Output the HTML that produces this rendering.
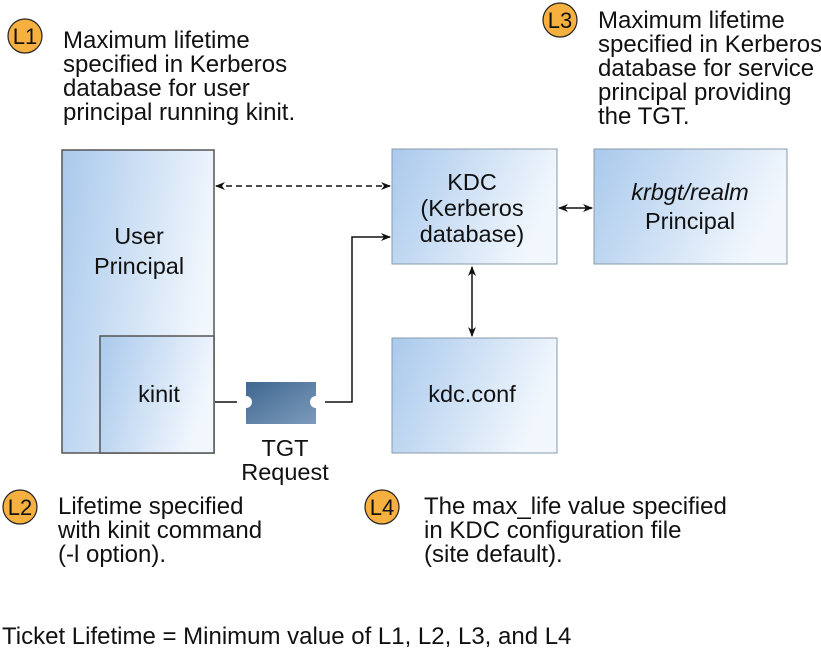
<!DOCTYPE html>
<html><head><meta charset="utf-8"><style>
html,body{margin:0;padding:0;background:#fff;}
svg{display:block;}
text{font-family:"Liberation Sans",sans-serif;fill:#111;}
</style></head><body>
<svg width="821" height="658" viewBox="0 0 821 658" xmlns="http://www.w3.org/2000/svg">
<defs>
<linearGradient id="g" x1="0" y1="0" x2="1" y2="0.3">
<stop offset="0" stop-color="#a9c9ec"/><stop offset="1" stop-color="#f2f7fd"/></linearGradient>
<linearGradient id="t" x1="0" y1="0" x2="1" y2="1">
<stop offset="0" stop-color="#3f6791"/><stop offset="1" stop-color="#7d9bbb"/></linearGradient>
<marker id="a" markerWidth="10" markerHeight="8" refX="9" refY="4" orient="auto-start-reverse" markerUnits="userSpaceOnUse">
<path d="M0,0 L10,4 L0,8 L3,4 z" fill="#111"/></marker>
</defs>
<rect x="62" y="150" width="152" height="303" fill="url(#g)" stroke="#555" stroke-width="1.5"/>
<rect x="100" y="336" width="114" height="117" fill="url(#g)" stroke="#555" stroke-width="1.5"/>
<rect x="392" y="149" width="165" height="115" fill="url(#g)" stroke="#8a9aaa" stroke-width="1"/>
<rect x="594" y="149" width="193" height="115" fill="url(#g)" stroke="#8a9aaa" stroke-width="1"/>
<rect x="392" y="338" width="165" height="115" fill="url(#g)" stroke="#8a9aaa" stroke-width="1"/>
<line x1="216" y1="186" x2="390" y2="186" stroke="#111" stroke-width="1.5" stroke-dasharray="6,4" marker-start="url(#a)" marker-end="url(#a)"/>
<line x1="215" y1="402" x2="237" y2="402" stroke="#111" stroke-width="1.5"/>
<polyline points="325,402 352,402 352,237 390,237" fill="none" stroke="#111" stroke-width="1.5" marker-end="url(#a)"/>
<line x1="559" y1="208" x2="592" y2="208" stroke="#111" stroke-width="1.5" marker-start="url(#a)" marker-end="url(#a)"/>
<line x1="472" y1="267" x2="472" y2="336" stroke="#111" stroke-width="1.5" marker-start="url(#a)" marker-end="url(#a)"/>
<path d="M246,382 L316,382 L316,396 A6,6 0 0 0 316,408 L316,424 L246,424 L246,408 A6,6 0 0 0 246,396 Z" fill="url(#t)"/>
<g font-size="23.5" text-anchor="middle">
<text x="139" y="244">User</text><text x="139" y="274">Principal</text>
<text x="159" y="402">kinit</text>
<text x="472" y="190">KDC</text><text x="472" y="216">(Kerberos</text><text x="472" y="242">database)</text>
<text x="690" y="200" font-style="italic">krbgt/realm</text><text x="690" y="229">Principal</text>
<text x="472" y="402">kdc.conf</text>
<text x="285" y="456">TGT</text><text x="285" y="480">Request</text>
</g>
<g stroke="#222" stroke-width="1.2" fill="#f5b040">
<circle cx="25" cy="36" r="17"/><circle cx="560" cy="20" r="17"/>
<circle cx="20" cy="507" r="17"/><circle cx="382" cy="507" r="17"/>
</g>
<g font-size="22" text-anchor="middle">
<text x="25" y="44">L1</text><text x="560" y="28">L3</text>
<text x="20" y="515">L2</text><text x="382" y="515">L4</text>
</g>
<g font-size="24">
<text x="63" y="48">Maximum lifetime</text>
<text x="63" y="72">specified in Kerberos</text>
<text x="63" y="96">database for user</text>
<text x="63" y="120">principal running kinit.</text>
<text x="598" y="28">Maximum lifetime</text>
<text x="598" y="52">specified in Kerberos</text>
<text x="598" y="76">database for service</text>
<text x="598" y="100">principal providing</text>
<text x="598" y="124">the TGT.</text>
<text x="58" y="514">Lifetime specified</text>
<text x="58" y="538">with kinit command</text>
<text x="58" y="562">(-l option).</text>
<text x="424" y="514">The max_life value specified</text>
<text x="424" y="538">in KDC configuration file</text>
<text x="424" y="562">(site default).</text>
<text x="2" y="644">Ticket Lifetime = Minimum value of L1, L2, L3, and L4</text>
</g>
</svg>
</body></html>
